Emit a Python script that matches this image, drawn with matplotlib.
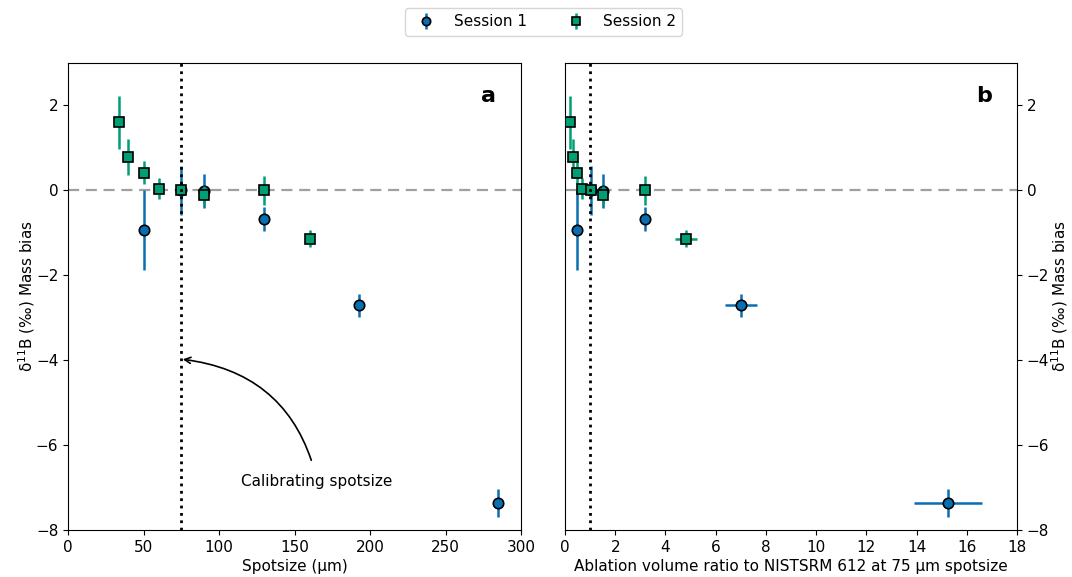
import matplotlib
matplotlib.use("Agg")
import matplotlib.pyplot as plt
import numpy as np

# Session 1 (circles)
s1_spot = [50, 75, 90, 130, 193, 285]
s1_ratio = [0.49, 1.05, 1.53, 3.19, 7.01, 15.26]
s1_ratio_err = [0.03, 0.05, 0.08, 0.2, 0.62, 1.36]
s1_bias = [-0.93, 0.0, -0.02, -0.68, -2.71, -7.37]
s1_err = [0.95, 0.58, 0.4, 0.28, 0.28, 0.33]

# Session 2 (squares)
s2_spot = [34, 40, 50, 60, 75, 90, 130, 160]
s2_ratio = [0.2, 0.3, 0.49, 0.68, 1.05, 1.53, 3.19, 4.82]
s2_ratio_err = [0.02, 0.03, 0.04, 0.06, 0.08, 0.1, 0.2, 0.43]
s2_bias = [1.6, 0.78, 0.42, 0.04, 0.0, -0.12, 0.0, -1.14]
s2_err = [0.62, 0.42, 0.27, 0.25, 0.1, 0.22, 0.34, 0.2]

c1 = "#0a6fb0"
c2 = "#009E73"
fs = 11

fig = plt.figure(figsize=(10.72, 5.77), dpi=100)
ax1 = fig.add_axes([68/1072, 1-530/577, 453/1072, 467/577])
ax2 = fig.add_axes([565/1072, 1-530/577, 452/1072, 467/577])

kw = dict(linestyle="none", markeredgecolor="black", markersize=7.5,
          elinewidth=1.8, capsize=0, markeredgewidth=1.2)

for ax in (ax1, ax2):
    ax.axhline(0, color="#a0a0a0", linestyle=(0, (5, 3)), linewidth=1.6, zorder=0)

ax1.axvline(75, color="black", linestyle=":", linewidth=2, zorder=5)
h1 = ax1.errorbar(s1_spot, s1_bias, yerr=s1_err, fmt="o", color=c1, ecolor=c1, label="Session 1", zorder=3, **kw)
h2 = ax1.errorbar(s2_spot, s2_bias, yerr=s2_err, fmt="s", color=c2, ecolor=c2, label="Session 2", zorder=4, **kw)
ax1.set_xlim(0, 300)
ax1.set_ylim(-8, 3)
ax1.set_xlabel("Spotsize (µm)", fontsize=fs, labelpad=3)
ax1.set_ylabel(r"$\mathregular{\delta^{11}}$B (‰) Mass bias", fontsize=fs, labelpad=-1)
ax1.text(0.945, 0.93, "a", transform=ax1.transAxes, fontsize=16, fontweight="bold",
         ha="right", va="center")
ax1.annotate("Calibrating spotsize", xy=(76, -3.98), xytext=(165, -6.85),
             ha="center", va="center", fontsize=fs,
             arrowprops=dict(arrowstyle="->", color="black", lw=1.2,
                             connectionstyle="arc3,rad=0.35", shrinkA=8, shrinkB=0))

ax2.axvline(1.0, color="black", linestyle=":", linewidth=2, zorder=5)
ax2.errorbar(s1_ratio, s1_bias, yerr=s1_err, xerr=s1_ratio_err, fmt="o", color=c1, ecolor=c1, zorder=3, **kw)
ax2.errorbar(s2_ratio, s2_bias, yerr=s2_err, xerr=s2_ratio_err, fmt="s", color=c2, ecolor=c2, zorder=4, **kw)
ax2.set_xlim(0, 18)
ax2.set_ylim(-8, 3)
ax2.set_xticks(np.arange(0, 19, 2))
ax2.yaxis.tick_right()
ax2.yaxis.set_label_position("right")
ax2.set_xlabel("Ablation volume ratio to NISTSRM 612 at 75 µm spotsize", fontsize=fs, labelpad=3)
ax2.set_ylabel(r"$\mathregular{\delta^{11}}$B (‰) Mass bias", fontsize=fs, labelpad=0)
ax2.text(0.945, 0.93, "b", transform=ax2.transAxes, fontsize=16, fontweight="bold",
         ha="right", va="center")

for ax in (ax1, ax2):
    ax.tick_params(labelsize=fs)

fig.legend(handles=[h1, h2], labels=["Session 1", "Session 2"], loc="center",
           bbox_to_anchor=(0.507, 0.962), ncol=2, fontsize=fs, columnspacing=2.2,
           markerscale=0.8)

fig.savefig("out.png", dpi=100)
